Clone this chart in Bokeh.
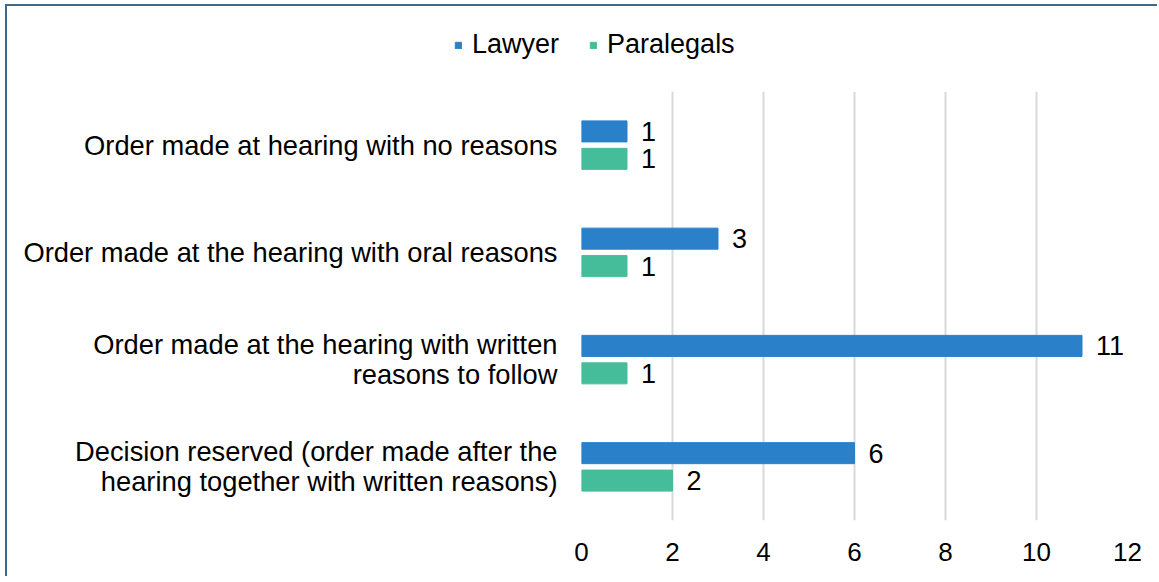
from bokeh.plotting import figure
from bokeh.models import ColumnDataSource, FactorRange, Range1d, Legend, LegendItem, FixedTicker
from bokeh.transform import dodge
from bokeh.embed import file_html
from bokeh.resources import INLINE

categories = [
    "Order made at hearing with no reasons",
    "Order made at the hearing with oral reasons",
    "Order made at the hearing with written\nreasons to follow",
    "Decision reserved (order made after the\nhearing together with written reasons)",
]
lawyer = [1, 3, 11, 6]
paralegals = [1, 1, 1, 2]
x_ticks = [0, 2, 4, 6, 8, 10, 12]
series_names = ["Lawyer", "Paralegals"]

FONT = "Liberation Sans"
LAWYER_COLOR = "#2A80C9"
PARA_COLOR = "#46BD9A"
COLORS = [LAWYER_COLOR, PARA_COLOR]
BORDER = "2px solid #41698A"

src = ColumnDataSource(dict(
    cat=categories,
    lawyer=lawyer,
    paralegals=paralegals,
    lawyer_txt=[str(v) for v in lawyer],
    para_txt=[str(v) for v in paralegals],
))

TOTAL_W = 1152
LEG_H = 70

# ---- legend strip (separate root, drawn above the chart) ----
lf = figure(
    width=TOTAL_W, height=LEG_H,
    x_range=Range1d(0, 1), y_range=Range1d(0, 1),
    output_backend="svg", toolbar_location=None,
    x_axis_type=None, y_axis_type=None,
    min_border=0,
)
lf.outline_line_color = None
lf.xgrid.visible = False
lf.ygrid.visible = False
lf.border_fill_color = "white"
lf.styles = {"border-left": BORDER, "border-top": BORDER,
             "margin-left": "5px", "margin-top": "4px"}
items = []
for name, col, field in zip(series_names, COLORS, ["lawyer", "paralegals"]):
    # zero-size proxies (outside the strip's view) only used to draw legend swatches
    rr = lf.hbar(y=field, left=field, right=field, height=0, source=src,
                 fill_color=col, line_color=col)
    items.append(LegendItem(label=name, renderers=[rr]))

legend = Legend(
    items=items,
    orientation="horizontal", location=(447, 16),
    glyph_width=8, glyph_height=8, label_standoff=10, spacing=30,
    label_text_font=FONT, label_text_font_size="27px", label_text_color="black",
    border_line_color=None, background_fill_alpha=0,
    padding=0, margin=0,
)
lf.add_layout(legend, "center")

# ---- main chart ----
p = figure(
    frame_width=546, frame_height=429,
    y_range=FactorRange(factors=categories[::-1], range_padding=0),
    x_range=Range1d(0, 12),
    output_backend="svg", toolbar_location=None,
    min_border_left=574, min_border_right=32, min_border_top=17, min_border_bottom=56,
)
p.styles = {"border-left": BORDER, "margin-left": "5px"}
p.outline_line_color = None
p.background_fill_color = "white"
p.border_fill_color = "white"

off = 0.128
bh = 0.196
r1 = p.hbar(y=dodge("cat", off, range=p.y_range), left=0, right="lawyer", height=bh,
            source=src, fill_color=LAWYER_COLOR, line_color=LAWYER_COLOR)
r2 = p.hbar(y=dodge("cat", -off, range=p.y_range), left=0, right="paralegals", height=bh,
            source=src, fill_color=PARA_COLOR, line_color=PARA_COLOR)

p.text(x="lawyer", y=dodge("cat", off, range=p.y_range), text="lawyer_txt", source=src,
       x_offset=14, text_align="left", text_baseline="middle",
       text_font_size="27px", text_font={"value": FONT}, text_color="black")
p.text(x="paralegals", y=dodge("cat", -off, range=p.y_range), text="para_txt", source=src,
       x_offset=14, text_align="left", text_baseline="middle",
       text_font_size="27px", text_font={"value": FONT}, text_color="black")

p.xaxis.ticker = FixedTicker(ticks=x_ticks)
for ax in (p.xaxis[0], p.yaxis[0]):
    ax.axis_line_color = None
    ax.major_tick_line_color = None
    ax.minor_tick_line_color = None
    ax.major_tick_out = 0
    ax.major_tick_in = 0
    ax.major_label_text_font = FONT
    ax.major_label_text_color = "black"
p.xaxis.major_label_text_font_size = "26px"
p.yaxis.major_label_text_font_size = "27.3px"
p.yaxis.major_label_text_line_height = 0.96
p.xaxis.major_label_standoff = 22
p.yaxis.major_label_standoff = 24

p.xgrid.grid_line_color = "#D9D9D9"
p.xgrid.grid_line_width = 2
p.ygrid.grid_line_color = None

open("out.html", "w").write(file_html([lf, p], INLINE))
